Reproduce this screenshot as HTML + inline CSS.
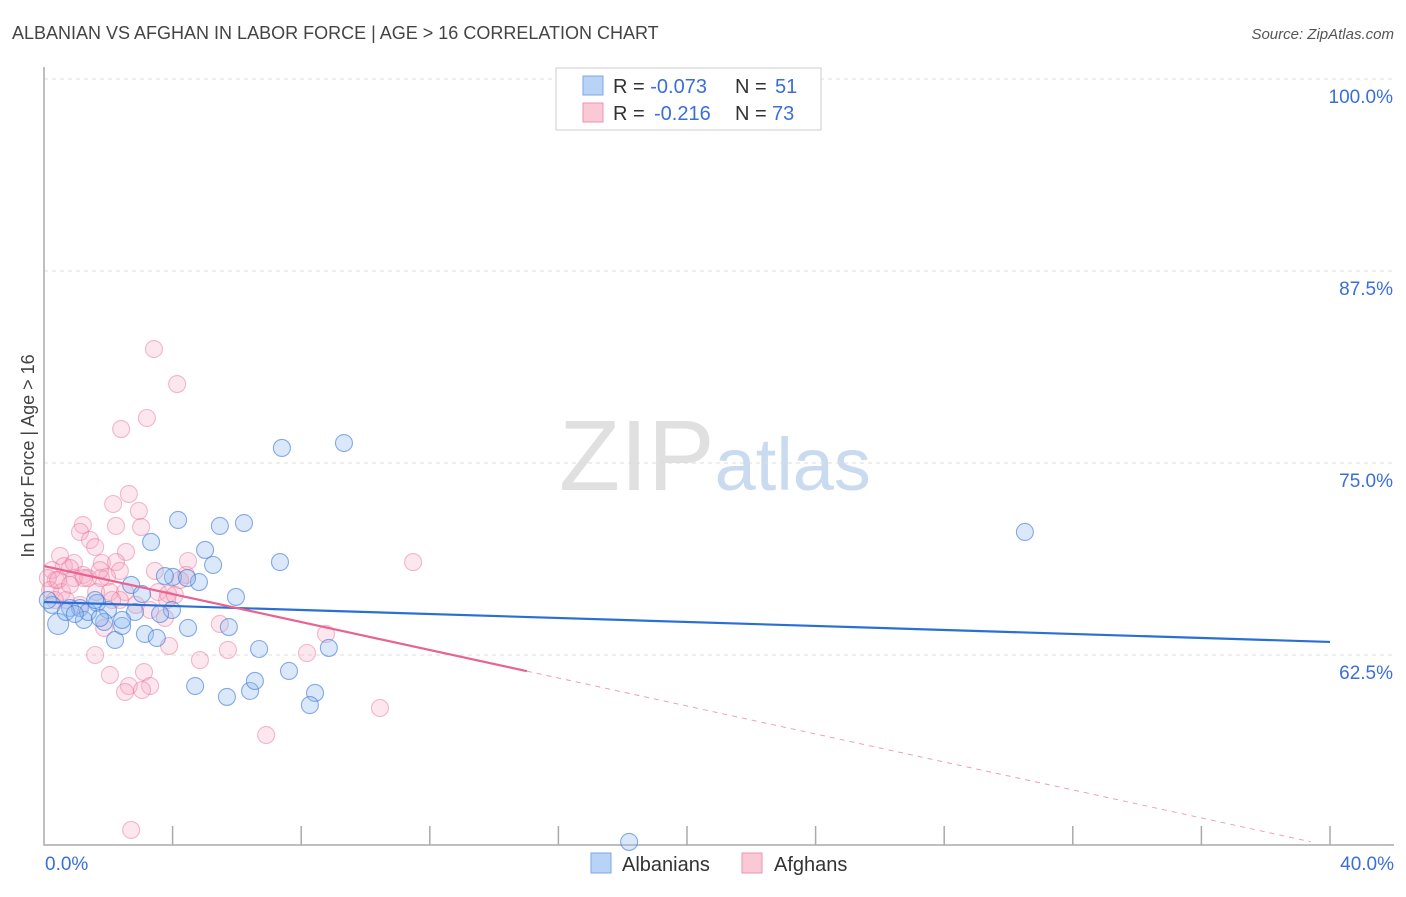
<!DOCTYPE html>
<html><head><meta charset="utf-8"><style>
body{margin:0;background:#fff;font-family:"Liberation Sans",sans-serif;}
svg text{font-family:"Liberation Sans",sans-serif;}
</style></head><body>
<svg id="chart" width="1406" height="892" xmlns="http://www.w3.org/2000/svg">
<text x="12" y="39" font-size="18" fill="#444">ALBANIAN VS AFGHAN IN LABOR FORCE | AGE &gt; 16 CORRELATION CHART</text>
<text x="1394" y="39" font-size="15" fill="#555" text-anchor="end" font-style="italic">Source: ZipAtlas.com</text>
<text x="715" y="490" font-size="100" text-anchor="middle" fill="#ddd" font-family="Liberation Serif,serif" opacity="0.9">ZIP<tspan fill="#c5d8ef" font-family="Liberation Sans,sans-serif" font-size="74">atlas</tspan></text>
<g id="grid"></g>
<g id="axes"></g>
<g id="points"></g>
<g id="trends"></g>
<text transform="translate(34,456) rotate(-90)" font-size="18" fill="#444" text-anchor="middle">In Labor Force | Age &gt; 16</text>
<g>
<rect x="556" y="68" width="265" height="62" fill="#fff" stroke="#ccc"/>
<rect x="583" y="76" width="20" height="19" fill="#b8d3f5" stroke="#7aa7e6"/>
<rect x="583" y="103" width="20" height="19" fill="#fbc8d6" stroke="#ec93ad"/>
<text x="613" y="93" font-size="20" fill="#333">R = <tspan fill="#3a6fd8">-0.073</tspan><tspan x="735">N = </tspan><tspan fill="#3a6fd8" x="775">51</tspan></text>
<text x="613" y="120" font-size="20" fill="#333">R = <tspan fill="#3a6fd8" x="654">-0.216</tspan><tspan x="735">N = </tspan><tspan fill="#3a6fd8" x="772">73</tspan></text>
</g>
<g>
<rect x="591" y="853" width="20" height="20" fill="#b8d3f5" stroke="#7aa7e6"/>
<text x="622" y="871" font-size="20" fill="#333">Albanians</text>
<rect x="742" y="853" width="20" height="20" fill="#fbc8d6" stroke="#ec93ad"/>
<text x="774" y="871" font-size="20" fill="#333">Afghans</text>
</g>
</svg>
<script>
const yTicks=[100,87.5,75,62.5];
const yTickLabels=["100.0%","87.5%","75.0%","62.5%"];
const xTickLabels=["0.0%","40.0%"];
const blueX=[4.17,3.33,5.01,5.26,4.01,4.82,4.45,3.76,5.97,2.71,3.05,3.98,3.61,4.48,3.14,3.51,5.75,5.47,6.22,7.34,7.40,9.33,30.51,6.69,7.62,4.70,5.69,6.41,6.56,8.43,8.27,8.86,18.20,0.44,0.25,0.81,1.12,1.24,1.65,1.99,2.21,2.43,1.87,2.83,1.37,0.68,0.12,0.96,1.74,2.43,1.59];
const blueY=[71.29,69.86,69.34,68.36,67.58,67.25,67.51,67.64,66.28,67.06,66.47,65.43,65.17,64.26,63.87,63.61,64.32,70.90,71.09,68.55,75.98,76.30,70.51,62.89,61.46,60.48,59.77,60.16,60.81,60.03,59.24,62.96,50.33,64.52,65.76,65.56,65.56,64.78,65.89,65.43,63.48,64.39,64.65,65.30,65.30,65.30,66.08,65.17,64.91,64.78,66.08];
const pinkX=[3.42,4.14,3.20,2.40,2.64,2.15,2.95,1.21,1.12,2.24,3.02,1.43,1.59,2.55,0.50,0.62,0.93,0.81,1.80,2.24,4.48,11.48,3.45,2.36,1.96,1.77,1.21,0.25,0.37,0.12,0.19,0.56,0.93,1.37,1.62,2.05,2.52,2.86,3.55,3.86,3.83,3.76,4.42,5.47,5.72,4.85,1.59,2.05,3.11,2.64,2.52,3.30,3.05,6.91,10.45,8.77,8.18,3.89,1.87,2.71,0.44,0.68,1.12,2.36,1.24,2.12,3.30,4.07,0.34,0.81,4.23,1.74];
const pinkY=[82.42,80.14,77.93,77.21,72.98,72.33,71.88,70.96,70.51,70.90,70.83,69.99,69.53,69.21,68.95,68.29,68.49,68.16,68.49,68.55,68.62,68.55,67.97,67.97,67.58,67.51,67.71,68.03,67.38,67.51,66.73,66.60,67.51,67.51,66.60,66.60,66.60,65.76,66.60,66.47,66.08,64.91,67.71,64.52,62.83,62.17,62.50,61.20,61.39,60.48,60.09,60.48,60.22,57.29,59.05,63.87,62.63,63.09,64.26,51.11,67.38,66.08,65.76,66.08,67.51,66.08,65.43,66.41,66.08,67.06,67.38,68.03];
const blueTrend=[65.95,63.35];
const pinkTrend=[68.29,50.07];
const pinkSolidEnd=15.02;
const NS="http://www.w3.org/2000/svg";
const X=v=>44+v/40*1286;
const Y=v=>79+(100-v)/12.5*192;
function mk(t,a,p){const e=document.createElementNS(NS,t);for(const k in a)e.setAttribute(k,a[k]);p.appendChild(e);return e;}
const grid=document.getElementById('grid'),axes=document.getElementById('axes');
yTicks.forEach((t,i)=>{
 const l=mk('line',{x1:44,x2:1394,y1:Y(t),y2:Y(t),stroke:'#ddd','stroke-dasharray':'4,4'},grid);
 
 
 const tx=mk('text',{x:1393,y:Y(t)+24,'font-size':19,fill:'#3a6fd8','text-anchor':'end'},axes);
 tx.textContent=yTickLabels[i];
 
 
});
const ax=mk('path',{d:'M44,67 V845 H1394',fill:'none',stroke:'#aaa','stroke-width':1.5},axes);


for(let i=1;i<=10;i++){
 const t=mk('line',{x1:X(i*4),x2:X(i*4),y1:826,y2:845,stroke:'#aaa','stroke-width':1.5},axes);
 
 
}
[[0,'start',45],[40,'end',1394]].forEach((d,i)=>{
 const tx=mk('text',{x:d[2],y:870,'font-size':19,fill:'#3a6fd8','text-anchor':d[1]},axes);
 tx.textContent=xTickLabels[i];
 
 
});
const pts=document.getElementById('points');
pinkX.forEach((v,i)=>{
 const c=mk('circle',{cx:X(v),cy:Y(pinkY[i]),r:8.5,fill:'rgba(248,170,195,0.28)',stroke:'rgba(232,120,155,0.5)','stroke-width':1.1},pts);
 
 
});
blueX.forEach((v,i)=>{
 const c=mk('circle',{cx:X(v),cy:Y(blueY[i]),r:(i==33?10.5:8.5),fill:'rgba(150,190,240,0.35)',stroke:'rgba(60,120,215,0.6)','stroke-width':1.1},pts);
 
 
});
const tr=document.getElementById('trends');
const pinkAt=x=>pinkTrend[0]+(pinkTrend[1]-pinkTrend[0])*x/40;
const bl=mk('line',{x1:X(0),y1:Y(blueTrend[0]),x2:X(40),y2:Y(blueTrend[1]),stroke:'#2a6fd6','stroke-width':2.2},tr);


const ps=mk('line',{x1:X(0),y1:Y(pinkAt(0)),x2:X(pinkSolidEnd),y2:Y(pinkAt(pinkSolidEnd)),stroke:'#e8638f','stroke-width':2.2},tr);


const pd=mk('line',{x1:X(pinkSolidEnd),y1:Y(pinkAt(pinkSolidEnd)),x2:X(39.4),y2:Y(pinkAt(39.4)),stroke:'#eea0b8','stroke-width':1,'stroke-dasharray':'5,5'},tr);


</script>
</body></html>
